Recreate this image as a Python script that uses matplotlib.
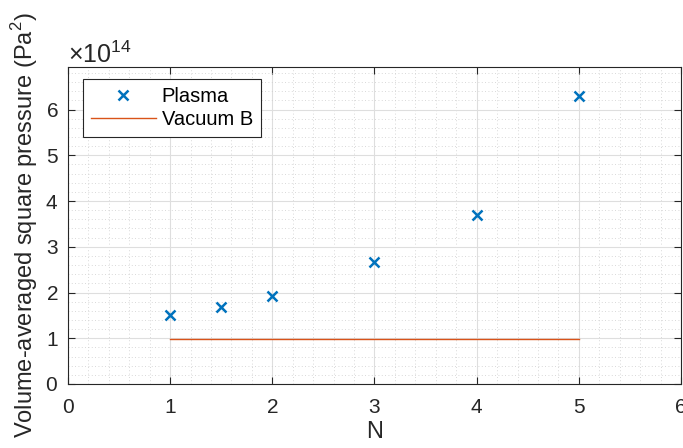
import numpy as np
import matplotlib.pyplot as plt
from matplotlib.ticker import MultipleLocator, ScalarFormatter

plt.rcParams['font.family'] = ['Liberation Sans', 'DejaVu Sans']
plt.rcParams['mathtext.fontset'] = 'custom'
plt.rcParams['mathtext.rm'] = 'Liberation Sans'
plt.rcParams['xtick.labelsize'] = 15
plt.rcParams['ytick.labelsize'] = 15

# Data
n_plasma = [1, 1.5, 2, 3, 4, 5]
p_plasma = [1.51e14, 1.69e14, 1.93e14, 2.66e14, 3.70e14, 6.30e14]
n_vacuum = [1, 5]
p_vacuum = [0.99e14, 0.99e14]

fig = plt.figure(figsize=(6.83, 4.48), dpi=100)
ax = fig.add_axes([0.0996, 0.1429, 0.8974, 0.7075])

ax.plot(n_plasma, p_plasma, 'x', color='#0072BD', markersize=7,
        markeredgewidth=1.8, label='Plasma')
ax.plot(n_vacuum, p_vacuum, '-', color='#D95319', linewidth=1.0,
        label='Vacuum B')

ax.set_xlim(0, 6)
ax.set_ylim(0, 6.93e14)
ax.xaxis.set_major_locator(MultipleLocator(1))
ax.xaxis.set_minor_locator(MultipleLocator(0.2))
ax.yaxis.set_major_locator(MultipleLocator(1e14))
ax.yaxis.set_minor_locator(MultipleLocator(0.2e14))

fmt = ScalarFormatter(useMathText=True)
fmt.set_powerlimits((0, 0))
ax.yaxis.set_major_formatter(fmt)
ax.yaxis.get_offset_text().set_fontsize(18)

ax.grid(which='major', color='#dedede', linewidth=0.8)
ax.grid(which='minor', color='#cccccc', linewidth=0.6, linestyle=(0, (1, 3)))
ax.set_axisbelow(True)

ax.tick_params(which='major', direction='in', length=5, width=0.8,
               top=True, right=True, colors='#262626')
ax.tick_params(axis='x', which='major', pad=10)
ax.tick_params(axis='y', which='major', pad=7)
ax.tick_params(which='minor', length=0, top=True, right=True)
for s in ax.spines.values():
    s.set_color('#262626')
    s.set_linewidth(0.8)

ax.set_xlabel('N', fontsize=17, color='#262626', labelpad=3)
ax.set_ylabel('Volume-averaged square pressure (Pa$^2$)', fontsize=17,
              color='#262626', labelpad=4)

leg = ax.legend(loc='upper left', bbox_to_anchor=(0.0245, 0.962),
                borderaxespad=0, fontsize=14.5, fancybox=False, framealpha=1,
                edgecolor='#262626', borderpad=0.4, handlelength=3.2,
                labelspacing=0.2, handletextpad=0.3)
leg.get_frame().set_linewidth(0.8)

fig.savefig('out.png', dpi=100)
